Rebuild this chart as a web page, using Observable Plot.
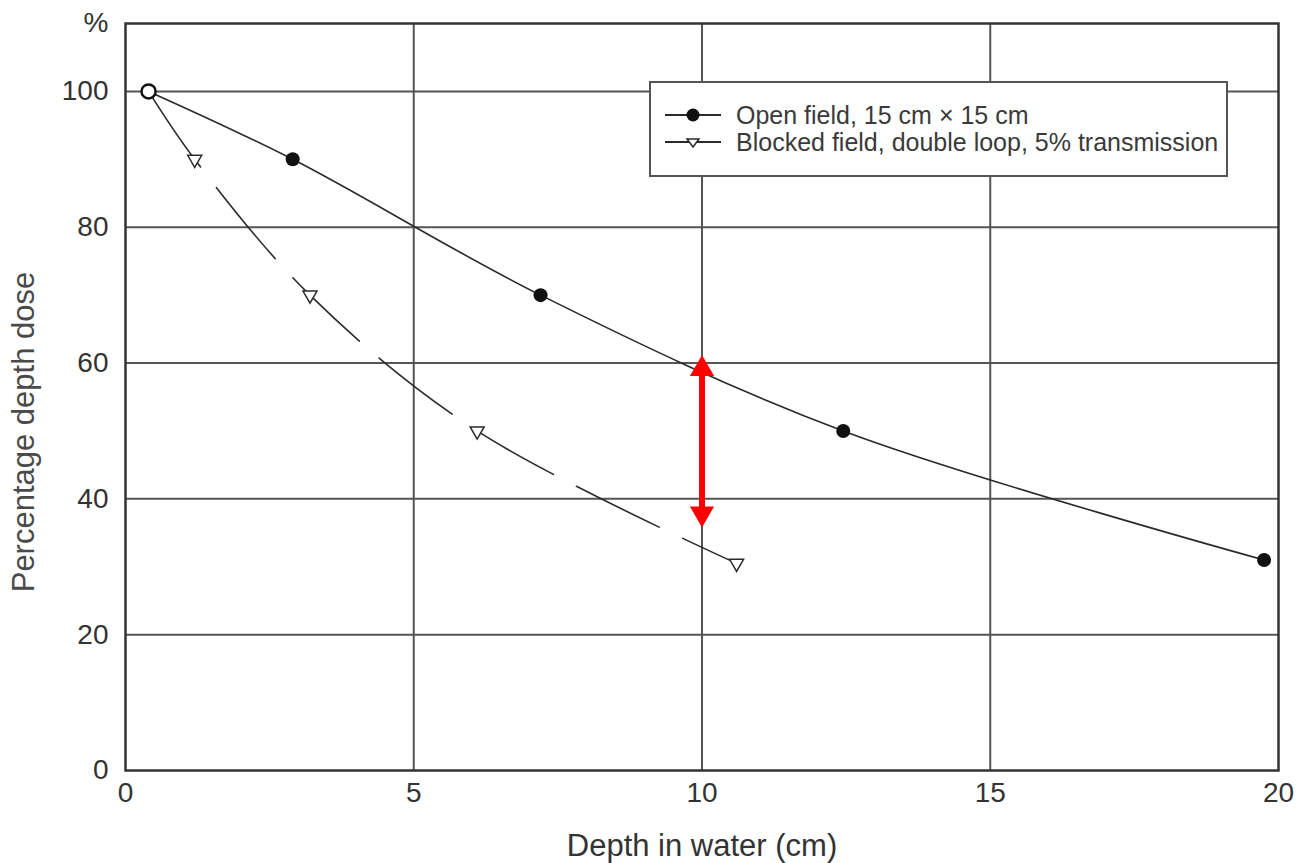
<!DOCTYPE html>
<html><head><meta charset="utf-8">
<script src="https://cdn.jsdelivr.net/npm/d3@7"></script>
<script src="https://cdn.jsdelivr.net/npm/@observablehq/plot@0.6"></script>
<style>
body{margin:0;background:#fff;}
#wrap{position:relative;width:1301px;height:863px;}
.legend{position:absolute;left:649px;top:81px;width:575px;height:92px;border:2px solid #555;background:#fff;font-family:"Liberation Sans",Arial,sans-serif;font-size:25px;color:#3a3a3a;}
.row{position:absolute;left:12px;display:flex;align-items:center;height:28px;white-space:nowrap;}
.row svg{margin-right:13px;}
</style></head><body><div id="wrap"></div>
<script>
// Data
const depthOpen = [0.4, 2.9, 7.2, 12.45, 19.75];
const pddOpen = [100, 90, 70, 50, 31];
const depthBlocked = [0.4, 1.2, 3.2, 6.1, 10.6];
const pddBlocked = [100, 90, 70, 50, 30.5];
const xTicks = [0, 5, 10, 15, 20];
const yTicks = [0, 20, 40, 60, 80, 100, 110];
const yTickLabels = ["0", "20", "40", "60", "80", "100", "%"];
const seriesNames = ["Open field, 15 cm  \u00d7 15 cm", "Blocked field, double loop, 5% transmission"];
const gapDepth = [10];
const gapTop = [61.2];
const gapBottom = [35.8];

const open = depthOpen.map((d, i) => ({depth: d, pdd: pddOpen[i]}));
const blocked = depthBlocked.map((d, i) => ({depth: d, pdd: pddBlocked[i]}));
const gap = gapDepth.map((d, i) => ({depth: d, top: gapTop[i], bottom: gapBottom[i]}));
const ink = "#2a2a2a";

const chart = Plot.plot({
  width: 1301, height: 863,
  marginLeft: 125, marginRight: 23, marginTop: 23, marginBottom: 93,
  style: {fontFamily: "'Liberation Sans', Arial, sans-serif", fontSize: "28px", color: "#333", background: "#fff"},
  x: {domain: [0, 20]},
  y: {domain: [0, 110]},
  marks: [
    Plot.ruleX(xTicks.slice(1, -1), {stroke: "#555", strokeWidth: 2}),
    Plot.ruleY(yTicks.slice(1, -1), {stroke: "#555", strokeWidth: 2}),
    Plot.frame({stroke: "#333", strokeWidth: 2.5}),
    Plot.axisX({ticks: xTicks, tickSize: 0, tickPadding: 12, label: null, fill: "#333"}),
    Plot.axisY({ticks: yTicks, tickSize: 0, tickPadding: 17, label: null, fill: "#333",
      tickFormat: d => yTickLabels[yTicks.indexOf(d)]}),
    Plot.text(["Depth in water (cm)"], {frameAnchor: "bottom", dy: 85, fill: "#333", fontSize: 31}),
    Plot.text(["Percentage depth dose"], {frameAnchor: "left", textAnchor: "middle", dx: -101, dy: 35, rotate: -90, fill: "#4a4a4a", fontSize: 31}),
    Plot.line(open, {x: "depth", y: "pdd", curve: "catmull-rom", stroke: ink, strokeWidth: 1.6}),
    Plot.line(blocked, {x: "depth", y: "pdd", curve: "catmull-rom", stroke: ink, strokeWidth: 1.6, strokeDasharray: "92,26"}),
    Plot.ruleX(gap, {x: "depth", y1: "top", y2: "bottom", stroke: "#ff0000", strokeWidth: 6, insetTop: 16, insetBottom: 16}),
    Plot.dot(gap, {x: "depth", y: "top", symbol: "triangle", r: 9, fill: "#ff0000", dy: 14}),
    Plot.dot(gap, {x: "depth", y: "bottom", symbol: "triangle", r: 9, fill: "#ff0000", rotate: 180, dy: -14}),
    Plot.dot(open.slice(1), {x: "depth", y: "pdd", r: 7, fill: "#111"}),
    Plot.dot(blocked.slice(1), {x: "depth", y: "pdd", symbol: "triangle", rotate: 180, r: 5.2, fill: "#fff", stroke: ink, strokeWidth: 1.5}),
    Plot.dot(open.slice(0, 1), {x: "depth", y: "pdd", r: 7, fill: "#fff", stroke: "#111", strokeWidth: 2.5})
  ]
});
const wrap = document.getElementById("wrap");
wrap.appendChild(chart);

// Legend
const legend = document.createElement("div");
legend.className = "legend";
const sym = [
  '<svg width="60" height="20"><line x1="2" y1="10" x2="58" y2="10" stroke="#2a2a2a" stroke-width="2"/><circle cx="30" cy="10" r="6.5" fill="#111"/></svg>',
  '<svg width="60" height="20"><line x1="2" y1="10" x2="58" y2="10" stroke="#2a2a2a" stroke-width="2"/><path d="M24,7 L36,7 L30,15 Z" fill="#fff" stroke="#2a2a2a" stroke-width="1.5"/></svg>'
];
seriesNames.forEach((name, i) => {
  const row = document.createElement("div");
  row.className = "row";
  row.style.top = (18 + i * 27) + "px";
  row.innerHTML = sym[i] + "<span>" + name + "</span>";
  legend.appendChild(row);
});
wrap.appendChild(legend);
</script></body></html>
